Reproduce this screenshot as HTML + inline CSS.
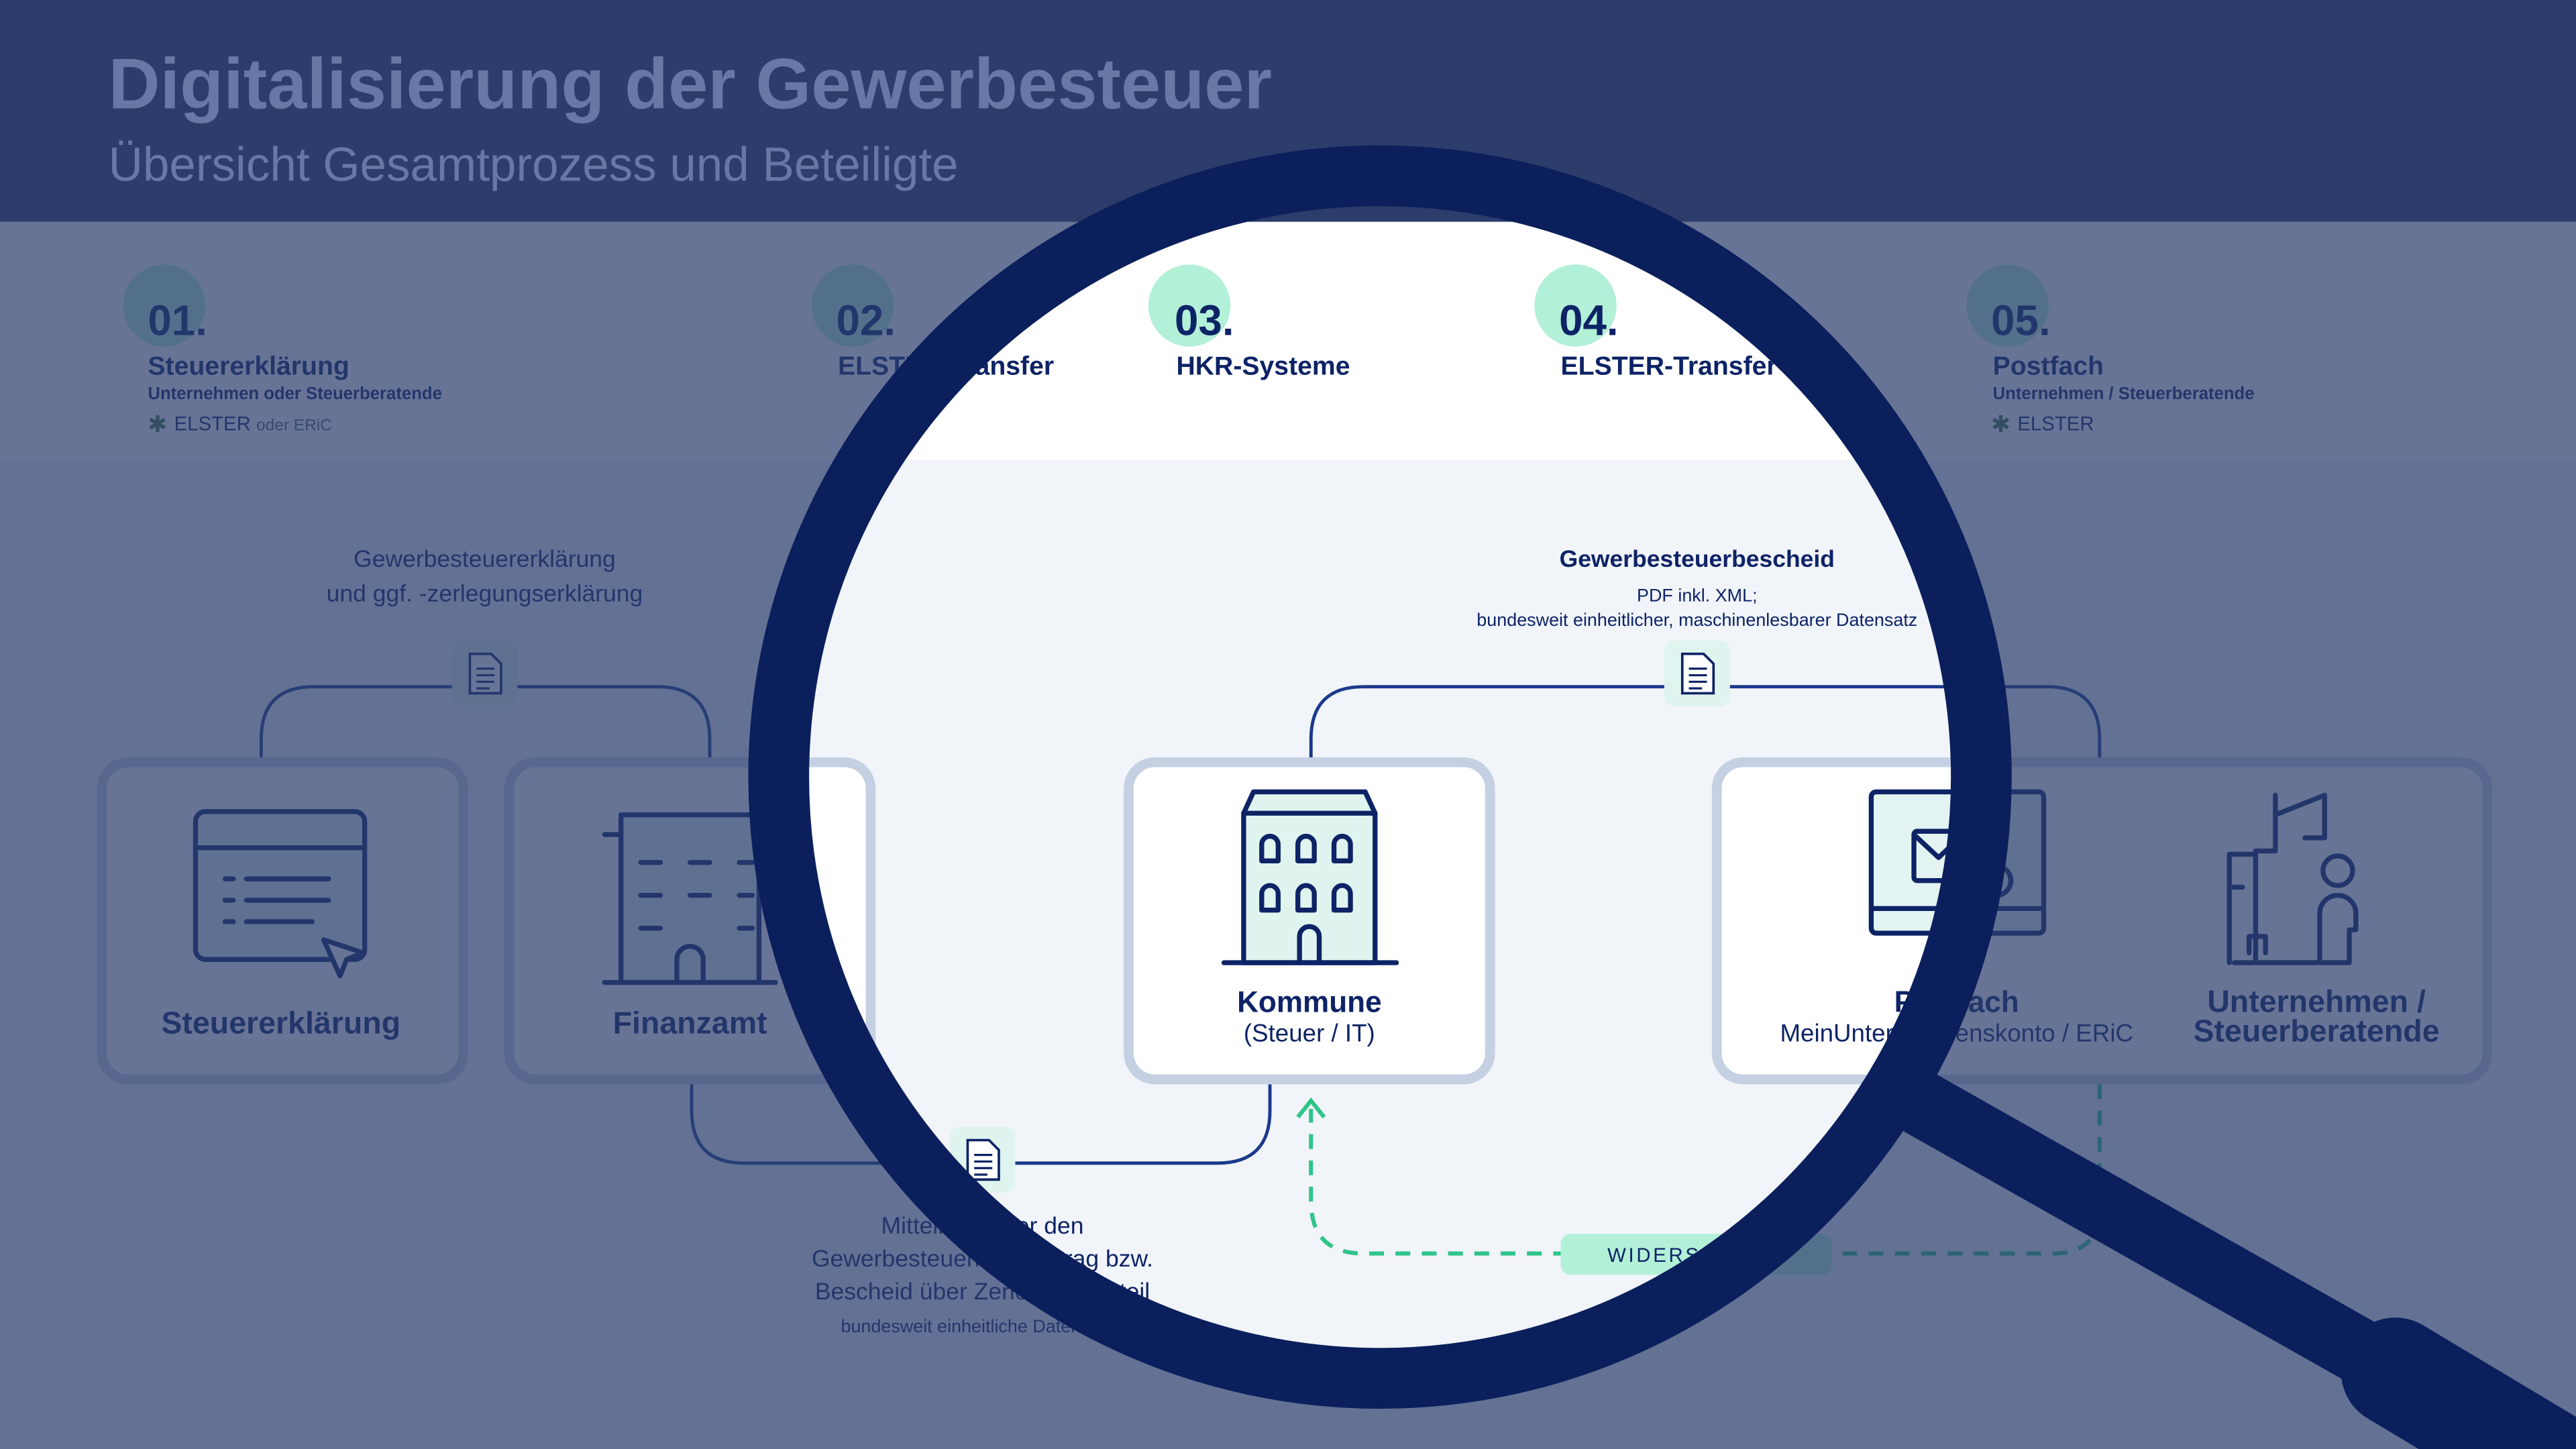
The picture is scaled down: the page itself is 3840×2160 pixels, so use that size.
<!DOCTYPE html>
<html><head><meta charset="utf-8"><style>
html,body{margin:0;padding:0;background:#5f6e96;overflow:hidden}
svg{display:block}
text{font-family:"Liberation Sans",sans-serif}
</style></head><body>
<svg width="3840" height="2160" viewBox="0 0 1568 882" xmlns="http://www.w3.org/2000/svg">
<rect x="0" y="0" width="1568" height="882" fill="#f1f4f9"/>
<rect x="0" y="135" width="1568" height="145" fill="#ffffff"/>

<g fill="#b3f0d8">
<circle cx="100" cy="186" r="25"/><circle cx="519" cy="186" r="25"/><circle cx="724" cy="186" r="25"/><circle cx="959" cy="186" r="25"/><circle cx="1222" cy="186" r="25"/>
</g>
<g fill="#0d2366" font-weight="bold">
<text x="90" y="204" font-size="26">01.</text>
<text x="509" y="204" font-size="26">02.</text>
<text x="715" y="204" font-size="26">03.</text>
<text x="949" y="204" font-size="26">04.</text>
<text x="1212" y="204" font-size="26">05.</text>
<text x="90" y="228" font-size="16">Steuererklärung</text>
<text x="90" y="243" font-size="10.5">Unternehmen oder Steuerberatende</text>
<text x="510" y="228" font-size="16">ELSTER-Transfer</text>
<text x="716" y="228" font-size="16">HKR-Systeme</text>
<text x="950" y="228" font-size="16">ELSTER-Transfer</text>
<text x="1213" y="228" font-size="16">Postfach</text>
<text x="1213" y="243" font-size="10.5">Unternehmen / Steuerberatende</text>
</g>
<text x="90" y="263" font-size="14" fill="#3f7a3f">✱</text>
<text x="106" y="262" font-size="12" fill="#0d2366">ELSTER <tspan font-size="10" fill="#55607a">oder ERiC</tspan></text>
<text x="1212" y="263" font-size="14" fill="#3f7a3f">✱</text>
<text x="1228" y="262" font-size="12" fill="#0d2366">ELSTER</text>

<g fill="none" stroke="#1b3a8c" stroke-width="2">
<path d="M159,462 V450 Q159,418 191,418 H400 Q432,418 432,450 V462"/>
<path d="M798,462 V450 Q798,418 830,418 H1246 Q1278,418 1278,450 V462"/>
<path d="M421,660 V676 Q421,708 453,708 H741 Q773,708 773,676 V660"/>
</g>
<g fill="none" stroke="#2fc48a" stroke-width="2.5" stroke-dasharray="9,7">
<path d="M1278,660 V735 Q1278,763 1250,763 H830 Q798,763 798,731 V675"/>
</g>
<path d="M790,680 L798,670 L806,680" fill="none" stroke="#2fc48a" stroke-width="2.5"/>
<rect x="950" y="751" width="165" height="25" rx="6" fill="#b3f0d8"/>
<text x="1032" y="768" font-size="12" fill="#0d2366" text-anchor="middle" letter-spacing="1.5">WIDERSPRUCH</text>

<g>
<rect x="275" y="390" width="40" height="40" rx="6" fill="#dff4ee"/>
<rect x="1013" y="390" width="40" height="40" rx="6" fill="#dff4ee"/>
<rect x="578" y="686" width="40" height="40" rx="6" fill="#dff4ee"/>
</g>
<g fill="#fff" stroke="#0d2366" stroke-width="1.5">
<path d="M286,398 h13 l6,6 v18 h-19z"/><path d="M1024,398 h13 l6,6 v18 h-19z"/><path d="M589,694 h13 l6,6 v18 h-19z"/>
</g>
<g stroke="#0d2366" stroke-width="1.3">
<path d="M290,407h11M290,411h11M290,415h11M290,419h8"/>
<path d="M1028,407h11M1028,411h11M1028,415h11M1028,419h8"/>
<path d="M593,703h11M593,707h11M593,711h11M593,715h8"/>
</g>

<g fill="#0d2366" text-anchor="middle">
<text x="295" y="345" font-size="14.5">Gewerbesteuererklärung</text>
<text x="295" y="366" font-size="14.5">und ggf. -zerlegungserklärung</text>
<text x="1033" y="345" font-size="14.5" font-weight="bold">Gewerbesteuerbescheid</text>
<text x="1033" y="366" font-size="11">PDF inkl. XML;</text>
<text x="1033" y="381" font-size="11">bundesweit einheitlicher, maschinenlesbarer Datensatz</text>
<text x="598" y="751" font-size="14.5">Mitteilung über den</text>
<text x="598" y="771" font-size="14.5">Gewerbesteuermessbetrag bzw.</text>
<text x="598" y="791" font-size="14.5">Bescheid über Zerlegungsanteil</text>
<text x="598" y="811" font-size="11">bundesweit einheitliche Datensätze</text>
</g>

<g fill="#fff" stroke="#c5d0e3" stroke-width="6">
<rect x="62" y="464" width="220" height="193" rx="16"/>
<rect x="310" y="464" width="220" height="193" rx="16"/>
<rect x="687" y="464" width="220" height="193" rx="16"/>
<rect x="1045" y="464" width="469" height="193" rx="16"/>
</g>
<g fill="#0d2366" text-anchor="middle">
<text x="171" y="629" font-size="19" font-weight="bold">Steuererklärung</text>
<text x="420" y="629" font-size="19" font-weight="bold">Finanzamt</text>
<text x="797" y="616" font-size="18" font-weight="bold">Kommune</text>
<text x="797" y="634" font-size="15">(Steuer / IT)</text>
<text x="1191" y="616" font-size="18" font-weight="bold">Postfach</text>
<text x="1191" y="634" font-size="15">MeinUnternehmenskonto / ERiC</text>
<text x="1410" y="616" font-size="19" font-weight="bold">Unternehmen /</text>
<text x="1410" y="634" font-size="19" font-weight="bold">Steuerberatende</text>
</g>

<g fill="none" stroke="#0d2366" stroke-width="3" stroke-linecap="round" stroke-linejoin="round">
<rect x="119" y="494" width="103" height="90" rx="6" fill="#e3f3f1"/>
<path d="M119,516 H222"/>
<path d="M137,535h5M150,535h50M137,548h5M150,548h50M137,561h5M150,561h40"/>
<path d="M197,572 l24,8 -10,4 -4,10z" fill="#fff"/>
<path d="M368,508 H470"/><rect x="378" y="496" width="84" height="102" fill="#e3f3f1"/>
<path d="M390,525h12M420,525h12M450,525h8M390,545h12M420,545h12M450,545h8M390,565h12M450,565h8M412,598v-14a8,8 0 0 1 16,0v14M368,598H472"/>
<path d="M757,586 V495 l6,-13 h68 l6,13 V586z" fill="#dff4ee"/>
<path d="M757,495 H837"/>
<path d="M768,524v-10a5,5 0 0 1 10,0v10z M790,524v-10a5,5 0 0 1 10,0v10z M812,524v-10a5,5 0 0 1 10,0v10z M768,554v-10a5,5 0 0 1 10,0v10z M790,554v-10a5,5 0 0 1 10,0v10z M812,554v-10a5,5 0 0 1 10,0v10z M791,586v-16a6,6 0 0 1 12,0v16"/>
<path d="M745,586 H850"/>
<rect x="1139" y="482" width="105" height="86" rx="3" fill="#e3f3f1"/>
<path d="M1139,553 H1244 M1186,568v15 M1172,583h25"/>
<rect x="1165" y="506" width="30" height="30" rx="2"/><path d="M1165,508 l15,14 15,-14"/>
<circle cx="1215" cy="536" r="9"/>
<path d="M1357,586 V520 h16 V586 M1373,586 V518 h12 v-22 l30,-12 V510 h-12 M1385,496 v-12 M1357,540h8 M1369,580 v-10 h10 v10 M1360,586 H1410"/>
<circle cx="1423" cy="530" r="9"/>
<path d="M1412,586 v-30 a11,11 0 0 1 22,0 v10 h-4 v20z"/>
</g>

<path fill-rule="evenodd" fill="#2c3e6e" fill-opacity="0.72" d="M0,0H1568V882H0Z M492,473 a348,348 0 1,0 696,0 a348,348 0 1,0 -696,0Z"/>

<rect x="0" y="0" width="1568" height="135" fill="#2c3d6b"/>
<text x="66" y="66" font-size="43.5" font-weight="bold" fill="#6878a4">Digitalisierung der Gewerbesteuer</text>
<text x="66" y="110" font-size="29" fill="#6878a4">Übersicht Gesamtprozess und Beteiligte</text>

<circle cx="840" cy="473" r="366" fill="none" stroke="#0b1f5c" stroke-width="37"/>
<path d="M1170,672 L1600,915" stroke="#0b1f5c" stroke-width="40" stroke-linecap="round"/>
<path d="M1458,835 L1600,920" stroke="#0b1f5c" stroke-width="66" stroke-linecap="round"/>
</svg>
</body></html>
